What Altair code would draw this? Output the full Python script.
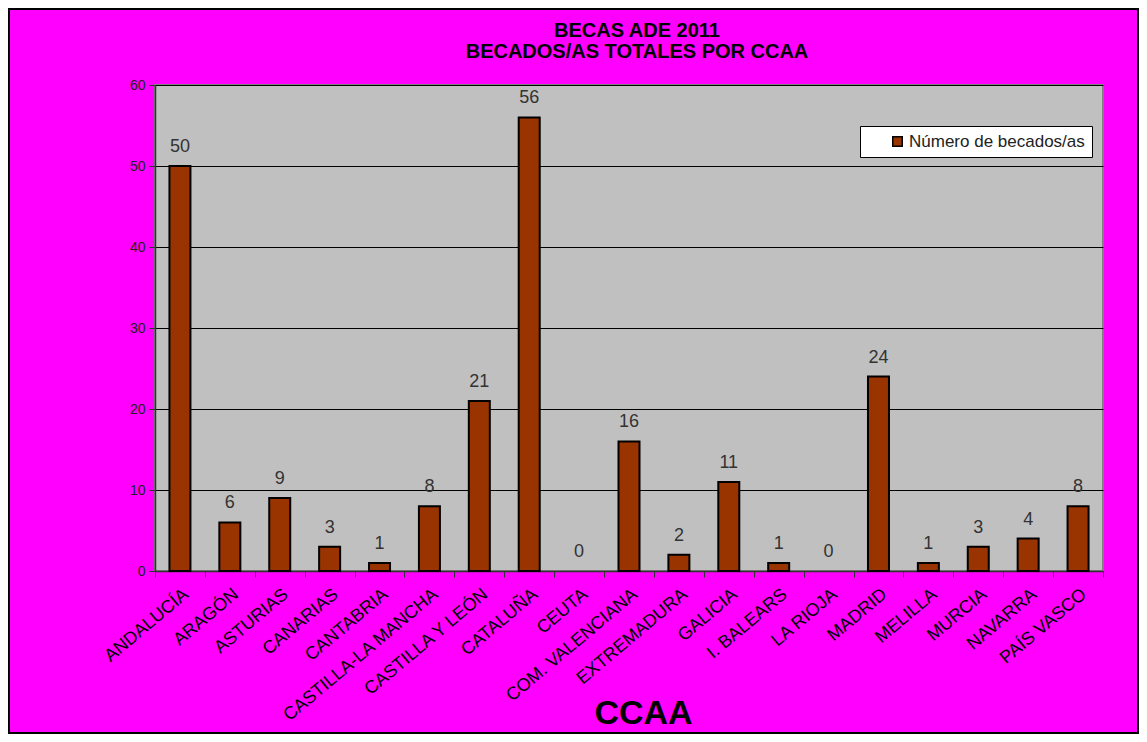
import altair as alt
import pandas as pd

regiones = ["ANDALUCÍA", "ARAGÓN", "ASTURIAS", "CANARIAS", "CANTABRIA",
            "CASTILLA-LA MANCHA", "CASTILLA Y LEÓN", "CATALUÑA", "CEUTA",
            "COM. VALENCIANA", "EXTREMADURA", "GALICIA", "I. BALEARS",
            "LA RIOJA", "MADRID", "MELILLA", "MURCIA", "NAVARRA", "PAÍS VASCO"]
becados = [50, 6, 9, 3, 1, 8, 21, 56, 0, 16, 2, 11, 1, 0, 24, 1, 3, 4, 8]
serie = "Número de becados/as"
y_ticks = [0, 10, 20, 30, 40, 50, 60]

df = pd.DataFrame({"ccaa": regiones, "n": becados, "serie": [serie] * len(regiones)})

FONT = "Liberation Sans"
W, H = 948, 486

base = alt.Chart(df)

bars = base.mark_bar(size=21, stroke="black", strokeWidth=2).encode(
    x=alt.X("ccaa:N", sort=regiones,
            scale=alt.Scale(paddingInner=0, paddingOuter=0),
            axis=alt.Axis(title="CCAA", labelAngle=-40, labelFontSize=18,
                          labelFont=FONT, labelColor="black", labelPadding=8,
                          labelLimit=400,
                          tickBand="extent", tickSize=6, tickColor="#333",
                          domainColor="#333", domainWidth=1.5,
                          titleFont=FONT, titleFontSize=34, titleFontWeight="bold",
                          titleColor="black", titleX=488, titleY=152,
                          titleBaseline="alphabetic", titleAnchor="start",
                          titleAlign="center")),
    y=alt.Y("n:Q", scale=alt.Scale(domain=[0, 60], nice=False),
            axis=alt.Axis(title=None, values=y_ticks, labelFontSize=14,
                          labelFont=FONT, labelColor="#222", tickSize=6,
                          tickColor="#333", domainColor="#333", domainWidth=1.5,
                          grid=True, gridColor="black", gridWidth=1,
                          labelPadding=4)),
    color=alt.Color("serie:N", scale=alt.Scale(range=["#993300"]),
                    legend=alt.Legend(title=None,
                                      orient="none",
                                      legendX=705, legendY=41,
                                      fillColor="white", strokeColor="black",
                                      padding=7, symbolType="square",
                                      symbolSize=90, symbolStrokeColor="black",
                                      symbolStrokeWidth=1.5, symbolOffset=22,
                                      labelOffset=3,
                                      labelFontSize=17, labelFont=FONT,
                                      labelColor="#222", labelLimit=300)),
).transform_filter(alt.datum.n > 0)

labels = base.mark_text(baseline="bottom", dy=-10, fontSize=18, font=FONT,
                        color="#333").encode(
    x=alt.X("ccaa:N", sort=regiones),
    y=alt.Y("n:Q"),
    text=alt.Text("n:Q"),
)

frame = alt.Chart(pd.DataFrame({"a": [0]})).mark_rect(
    fillOpacity=0, stroke="black", strokeWidth=2).encode(
    x=alt.value(-146), x2=alt.value(W + 35),
    y=alt.value(-76), y2=alt.value(H + 162),
)

chart = alt.layer(bars, labels, frame).properties(
    width=W, height=H,
    title=alt.Title(["BECAS ADE 2011", "BECADOS/AS TOTALES POR CCAA"],
                    font=FONT, fontSize=20, fontWeight="bold", color="black",
                    anchor="middle", offset=-54, lineHeight=21, dx=8,
                    frame="group"),
    background="#FF00FF",
    padding={"left": 147, "top": 77, "right": 36, "bottom": 163},
    autosize=alt.AutoSizeParams(type="none"),
).configure_view(
    fill="#C0C0C0", stroke="#808080", strokeWidth=2
)

chart.save("out.html", embed_options={"renderer": "svg", "actions": False})
